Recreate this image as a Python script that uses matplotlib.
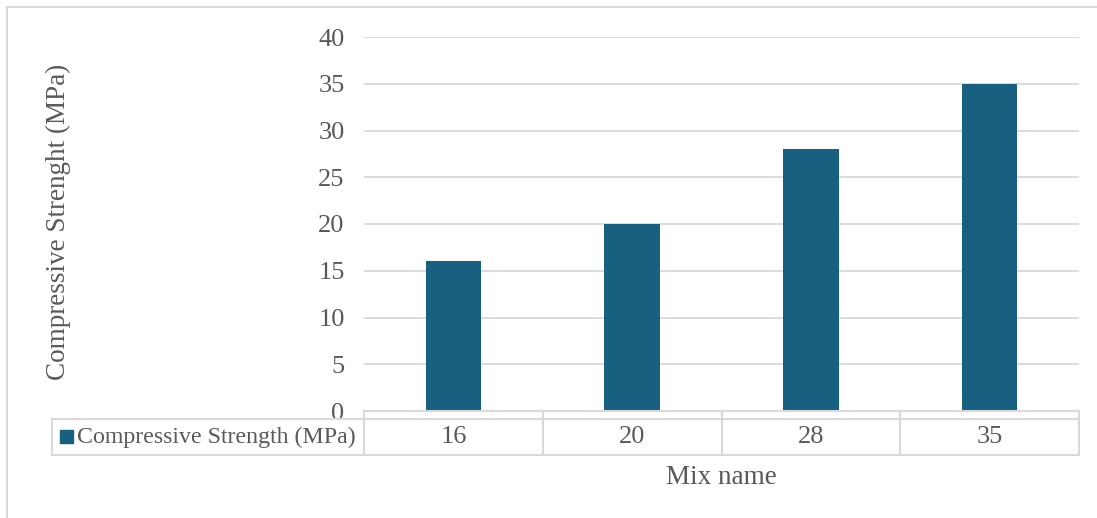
import matplotlib
matplotlib.use("Agg")
import matplotlib.pyplot as plt
from matplotlib.lines import Line2D
from matplotlib.patches import Rectangle
import matplotlib.transforms as mtransforms

categories = ["16", "20", "28", "35"]
values = [16, 20, 28, 35]
series_name = "Compressive Strength (MPa)"
y_ticks = [0, 5, 10, 15, 20, 25, 30, 35, 40]

W, H = 1097, 518
plt.rcParams['font.family'] = ['Liberation Serif', 'DejaVu Serif']
txt = '#595959'
grid = '#d9d9d9'
bar_c = '#17607f'
fs = 19
fs_leg = 17.2
fs_title = 19.5

fig = plt.figure(figsize=(W / 100, H / 100), dpi=100)

def fx(px):
    return px / W

def fy(py):
    return 1 - py / H

ax = fig.add_axes([fx(364), fy(411), fx(1079) - fx(364), fy(37) - fy(411)])
x = list(range(len(categories)))
ax.bar(x, values, width=0.31, color=bar_c, zorder=3)
ax.set_xlim(-0.5, len(categories) - 0.5)
ax.set_ylim(0, 40)
ax.set_yticks(y_ticks)
ax.set_yticklabels([str(t) for t in y_ticks], fontsize=fs, color=txt)
ax.set_xticks([])
ax.tick_params(axis='y', length=0, pad=14)
for s in ax.spines.values():
    s.set_visible(False)
ax.yaxis.grid(True, color=grid, linewidth=1.3, zorder=0)
ax.set_axisbelow(True)

# Data table below
blend = mtransforms.blended_transform_factory(ax.transData, fig.transFigure)
lc = '#d9d9d9'
lw = 1.5
y_top, y_mid, y_bot = fy(411), fy(419), fy(455)
for yy in (y_top, y_mid, y_bot):
    fig.add_artist(Line2D([-0.5, len(categories) - 0.5], [yy, yy], transform=blend, color=lc, lw=lw))
for i in range(len(categories) + 1):
    xi = i - 0.5
    fig.add_artist(Line2D([xi, xi], [y_top, y_bot], transform=blend, color=lc, lw=lw))
for i, c in enumerate(categories):
    fig.text(i, (y_mid + y_bot) / 2, c, transform=blend, ha='center', va='center',
             fontsize=fs, color=txt)
# legend cell
fig.add_artist(Line2D([fx(52), fx(364)], [y_mid, y_mid], color=lc, lw=lw))
fig.add_artist(Line2D([fx(52), fx(364)], [y_bot, y_bot], color=lc, lw=lw))
fig.add_artist(Line2D([fx(52), fx(52)], [y_mid, y_bot], color=lc, lw=lw))
fig.add_artist(Rectangle((fx(60), fy(443)), fx(13), fy(430) - fy(443), color=bar_c,
                         transform=fig.transFigure))
fig.text(fx(77), (y_mid + y_bot) / 2, series_name, ha='left', va='center',
         fontsize=fs_leg, color=txt)

# axis titles
fig.text(fx(721), fy(478), "Mix name", ha='center', va='center', fontsize=fs_title, color=txt)
fig.text(fx(58), fy(222), "Compressive Strenght (MPa)", ha='center', va='center',
         rotation=90, fontsize=fs_title, color=txt)

# outer border (top & left visible)
fig.add_artist(Line2D([fx(7), fx(7)], [fy(7), 0], color=lc, lw=1.5))
fig.add_artist(Line2D([fx(7), 1], [fy(7), fy(7)], color=lc, lw=1.5))

fig.savefig("out.png", dpi=100)
